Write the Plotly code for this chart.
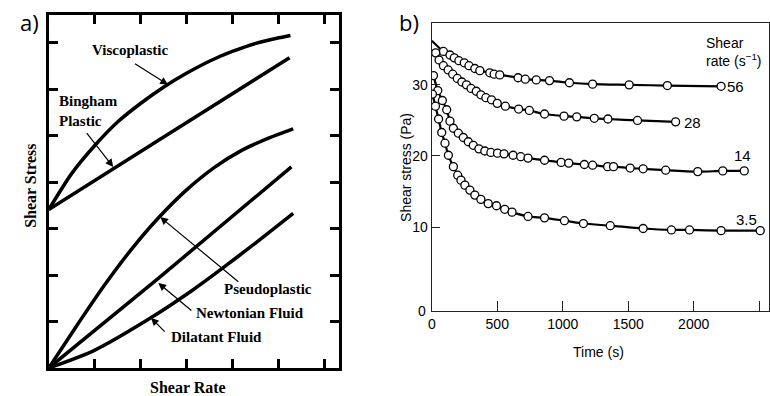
import plotly.graph_objects as go

W, H = 770, 396
def px(x): return x / W
def py(y): return 1 - y / H

# ---------- Panel a data (arbitrary units) ----------
visco_x = [0, 0.5, 1, 1.5, 2, 2.5, 3, 3.5, 4, 4.5, 5, 5.25]
visco_y = [3.41, 4.19, 4.79, 5.30, 5.70, 6.05, 6.35, 6.61, 6.82, 6.99, 7.11, 7.16]
bingham_x = [0, 2.6, 5.23]
bingham_y = [3.41, 5.04, 6.68]
pseudo_x = [0, 0.6, 1.2, 1.8, 2.4, 3.0, 3.6, 4.2, 4.8, 5.31]
pseudo_y = [0, 0.90, 1.77, 2.56, 3.25, 3.84, 4.32, 4.69, 4.96, 5.15]
newton_x = [0, 2.38, 5.27]
newton_y = [0, 1.93, 4.33]
dilat_x = [0, 0.97, 2.20, 3.13, 3.71, 4.49, 5.31]
dilat_y = [0, 0.37, 1.07, 1.68, 2.10, 2.69, 3.33]

# ---------- Panel b data ----------
t56 = [0, 89, 139, 172, 207, 248, 284, 329, 367, 443, 476, 519, 659, 714, 798, 899, 1051, 1228, 1507, 1799, 2209]
s56 = [36.2, 34.7, 34.2, 33.8, 33.4, 33.1, 32.7, 32.3, 32.0, 31.7, 31.5, 31.4, 31.0, 30.8, 30.7, 30.6, 30.3, 30.1, 30.0, 29.9, 29.8]
t28 = [30, 56, 89, 125, 160, 195, 230, 265, 300, 340, 375, 413, 456, 500, 562, 663, 745, 861, 1010, 1107, 1241, 1345, 1571, 1862]
s28 = [34.5, 33.5, 32.7, 32.1, 31.5, 30.9, 30.4, 30.0, 29.5, 29.1, 28.6, 28.2, 27.9, 27.4, 27.0, 26.6, 26.4, 25.9, 25.6, 25.5, 25.3, 25.2, 25.0, 24.8]
t14 = [13, 46, 81, 114, 139, 165, 203, 241, 279, 317, 360, 405, 451, 502, 552, 621, 679, 735, 861, 988, 1046, 1165, 1228, 1343, 1388, 1515, 1614, 1786, 2031, 2222, 2386]
s14 = [31.3, 29.2, 27.8, 26.5, 24.9, 23.9, 23.2, 22.6, 22.0, 21.5, 21.0, 20.7, 20.5, 20.4, 20.3, 20.1, 19.9, 19.7, 19.4, 19.1, 19.0, 18.8, 18.7, 18.5, 18.5, 18.3, 18.2, 18.0, 17.8, 17.9, 17.9]
t35 = [5, 28, 52, 76, 101, 127, 165, 198, 223, 253, 291, 329, 375, 431, 494, 557, 613, 735, 861, 1013, 1158, 1363, 1614, 1830, 1968, 2209, 2508]
s35 = [28.7, 27.0, 25.2, 23.3, 21.8, 20.1, 18.5, 17.3, 16.6, 15.9, 15.2, 14.5, 13.9, 13.3, 13.0, 12.5, 12.1, 11.5, 11.3, 10.9, 10.5, 10.2, 9.8, 9.6, 9.6, 9.5, 9.5]
series_b = [("56", t56, s56), ("28", t28, s28), ("14", t14, s14), ("3.5", t35, s35)]

xa_ticks = [1, 2, 3, 4, 5, 6]
ya_ticks = [1, 2, 3, 4, 5, 6, 7]
xb_ticks = [0, 500, 1000, 1500, 2000, 2500]
yb_ticks = [10, 20, 30]

fig = go.Figure()

for xs, ys in [(visco_x, visco_y), (bingham_x, bingham_y), (pseudo_x, pseudo_y),
               (newton_x, newton_y), (dilat_x, dilat_y)]:
    fig.add_trace(go.Scatter(x=xs, y=ys, mode="lines", xaxis="x", yaxis="y",
                             line=dict(color="black", width=3.5, shape="spline", smoothing=0.7),
                             showlegend=False, hoverinfo="skip"))

for name, ts, ss in series_b:
    sizes = [8] * len(ts)
    if name == "56":
        sizes[0] = 0
    fig.add_trace(go.Scatter(x=ts, y=ss, mode="lines+markers", xaxis="x2", yaxis="y2",
                             line=dict(color="black", width=2.2, shape="spline", smoothing=0.8),
                             marker=dict(symbol="circle", size=sizes, color="#ffffff", opacity=1,
                                         line=dict(color="black", width=1.3)),
                             showlegend=False, name=name))

serif = "Liberation Serif"
sans = "Liberation Sans"

fig.update_layout(
    width=W, height=H, margin=dict(l=0, r=0, t=0, b=0),
    paper_bgcolor="white", plot_bgcolor="white",
    xaxis=dict(domain=[px(45), px(337)], range=[0, 6.31], tickvals=xa_ticks,
               showticklabels=False, ticks="inside", ticklen=9, tickwidth=3, tickcolor="black",
               showline=True, linecolor="black", linewidth=3, mirror="ticks",
               showgrid=False, zeroline=False),
    yaxis=dict(domain=[py(368), py(15)], range=[0, 7.6], tickvals=ya_ticks,
               showticklabels=False, ticks="inside", ticklen=9, tickwidth=3, tickcolor="black",
               showline=True, linecolor="black", linewidth=3, mirror="ticks",
               showgrid=False, zeroline=False),
    xaxis2=dict(domain=[px(430), px(769)], range=[0, 2575], tickvals=xb_ticks,
                ticks="inside", ticklen=10, tickwidth=1.3, tickcolor="#222",
                showline=True, linecolor="#222", linewidth=1.4, mirror=True,
                showgrid=False, zeroline=False, anchor="y2",
                tickfont=dict(family=sans, size=14, color="black")),
    yaxis2=dict(domain=[py(311), py(23)], range=[-1.8, 38.7], tickvals=yb_ticks,
                ticks="inside", ticklen=8, tickwidth=1.3, tickcolor="#222",
                showline=True, linecolor="#222", linewidth=1.4, mirror=True,
                showgrid=False, zeroline=False, anchor="x2",
                tickfont=dict(family=sans, size=14, color="black")),
)

ann = []
def txt(text, x, y, size, family, xanchor="center", yanchor="middle", align="center", angle=0, **kw):
    d = dict(text=text, x=x, y=y, xref="paper", yref="paper", showarrow=False,
             xanchor=xanchor, yanchor=yanchor, align=align, textangle=angle,
             font=dict(family=family, size=size, color="black"))
    d.update(kw)
    ann.append(d)

# panel labels
txt("a)", px(26), py(22), 22, "Open Sans")
txt("b)", px(407), py(22), 22, "Open Sans")

# panel a titles
txt("<b>Shear Rate</b>", px(185), py(387), 16, serif)
txt("<b>Shear Stress</b>", px(26), py(186), 16, serif, angle=-90)

# panel a labels
txt("<b>Viscoplastic</b>", px(127), py(50), 15, serif)
txt("<b>Bingham<br>Plastic</b>", px(53), py(111), 15, serif, xanchor="left", align="left")
txt("<b>Pseudoplastic</b>", px(219), py(289), 15, serif, xanchor="left")
txt("<b>Newtonian Fluid</b>", px(191), py(313), 15, serif, xanchor="left")
txt("<b>Dilatant Fluid</b>", px(166), py(337), 15, serif, xanchor="left")

# panel a arrows (tail -> tip in data units)
arrows = [((1.84, 6.57), (2.59, 6.10)),
          ((0.80, 5.09), (1.40, 4.33)),
          ((4.15, 1.83), (2.42, 3.25)),
          ((3.13, 1.21), (2.38, 1.83)),
          ((2.55, 0.75), (2.22, 1.08))]
for (tx, ty), (hx, hy) in arrows:
    ann.append(dict(x=hx, y=hy, ax=tx, ay=ty, xref="x", yref="y", axref="x", ayref="y",
                    text="", showarrow=True, arrowhead=2, arrowsize=1.3, arrowwidth=1.2,
                    arrowcolor="black"))

# panel b titles
txt("Time (s)", px(598), py(352), 14, sans)
txt("Shear stress (Pa)", px(404), py(167), 14, sans, angle=-90)
txt("0", px(426), py(311), 14, sans, xanchor="right")
txt("Shear<br>rate (s<sup>−1</sup>)", px(704), py(52), 14, sans, xanchor="left", align="left")

# series labels
lab = {"56": dict(xanchor="left", xshift=4, yshift=0),
       "28": dict(xanchor="left", xshift=6, yshift=-1),
       "14": dict(xanchor="center", xshift=-2, yshift=15),
       "3.5": dict(xanchor="center", xshift=-14, yshift=11)}
for name, ts, ss in series_b:
    o = lab[name]
    ann.append(dict(text=name, x=ts[-1], y=ss[-1], xref="x2", yref="y2", showarrow=False,
                    xanchor=o["xanchor"], yanchor="middle", xshift=o["xshift"], yshift=o["yshift"],
                    font=dict(family=sans, size=15, color="black")))

fig.update_layout(annotations=ann)
fig.write_html("out.html")
